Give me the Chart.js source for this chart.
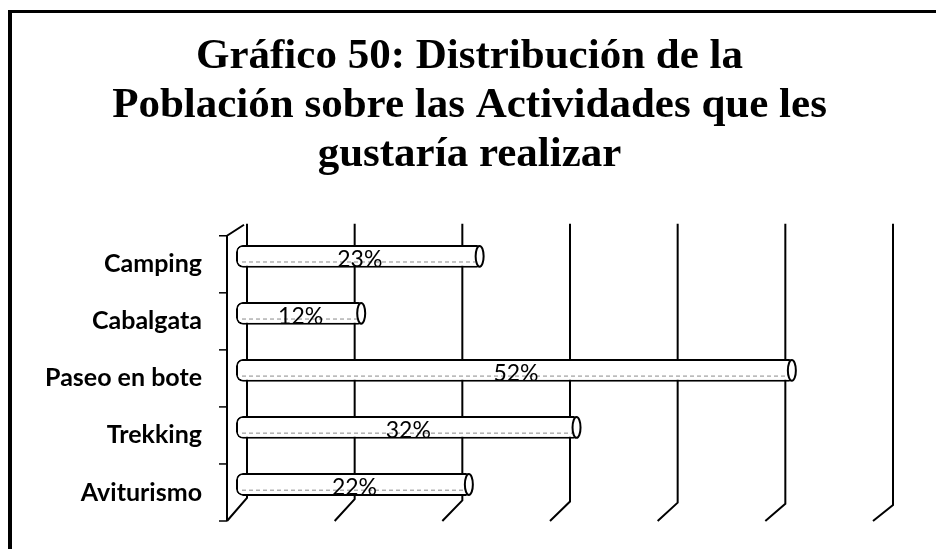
<!DOCTYPE html>
<html>
<head>
<meta charset="utf-8">
<script src="https://cdn.jsdelivr.net/npm/chart.js@4/dist/chart.umd.min.js"></script>
<style>
  html, body { margin: 0; background: #fff; overflow: hidden; width: 936px; height: 549px; }
  #marco { position: absolute; left: 8px; top: 10px; width: 930px; height: 545px;
           border-top: 3px solid #000; border-left: 4px solid #000; }
  #grafico { position: absolute; left: 46px; top: 0; }
</style>
</head>
<body>
<div id="marco"></div>
<canvas id="grafico" width="936" height="549"></canvas>
<script>
// DATOS
const categorias = ['Camping', 'Cabalgata', 'Paseo en bote', 'Trekking', 'Aviturismo'];
const porcentajes = [23, 12, 52, 32, 22];
const marcasEje = [0, 10, 20, 30, 40, 50, 60];
const titulo = ['Gráfico 50: Distribución de la', 'Población sobre las Actividades que les', 'gustaría realizar'];

// profundidad del efecto 3D
const fondo = 20;
const desvX = -11, desvY = -8;

const efecto3d = {
  id: 'efecto3d',
  beforeDatasetsDraw(chart) {
    const { ctx, chartArea: a, scales: { x } } = chart;
    ctx.save();
    ctx.strokeStyle = '#000';
    ctx.lineWidth = 2;
    // lineas de division (pared del fondo + piso)
    marcasEje.forEach(v => {
      const px = x.getPixelForValue(v);
      const pie = a.bottom - 23 + 7 * (px - a.left) / (a.right - a.left);
      ctx.beginPath();
      ctx.moveTo(px, a.top - 12);
      ctx.lineTo(px, pie);
      ctx.lineTo(px - fondo, a.bottom);
      ctx.stroke();
    });
    // eje de categorias al frente
    const ex = a.left - fondo;
    ctx.beginPath();
    ctx.moveTo(ex, a.bottom);
    ctx.lineTo(ex, a.top);
    ctx.lineTo(a.left - 3, a.top - 11);
    ctx.stroke();
    ctx.lineWidth = 1.5;
    const paso = (a.bottom - a.top) / categorias.length;
    for (let i = 0; i <= categorias.length; i++) {
      const py = a.top + i * paso;
      ctx.beginPath();
      ctx.moveTo(ex - 8, py);
      ctx.lineTo(ex, py);
      ctx.stroke();
    }
    ctx.restore();
    // las barras van a media profundidad
    ctx.save();
    ctx.translate(desvX, desvY);
  },
  afterDatasetsDraw(chart) {
    const { ctx } = chart;
    const meta = chart.getDatasetMeta(0);
    meta.data.forEach((barra, i) => {
      const { x: xf, y: yc, base, height: h } = barra.getProps(['x', 'y', 'base', 'height'], true);
      // linea punteada del escaneo
      ctx.save();
      ctx.strokeStyle = '#8a8a8a';
      ctx.lineWidth = 1;
      ctx.setLineDash([4, 3]);
      ctx.beginPath();
      ctx.moveTo(base + 6, yc + h * 0.25);
      ctx.lineTo(xf - 8, yc + h * 0.25);
      ctx.stroke();
      ctx.restore();
      // tapa del cilindro
      ctx.save();
      ctx.fillStyle = '#fff';
      ctx.strokeStyle = '#000';
      ctx.lineWidth = 2;
      ctx.beginPath();
      ctx.ellipse(xf - 4, yc, 4, h / 2 - 1, 0, 0, Math.PI * 2);
      ctx.fill();
      ctx.stroke();
      ctx.restore();
      // etiqueta
      ctx.save();
      ctx.font = '23px Lato';
      ctx.fillStyle = '#000';
      ctx.textAlign = 'center';
      ctx.textBaseline = 'middle';
      ctx.fillText(porcentajes[i] + '%', (base + xf) / 2, yc + 3);
      ctx.restore();
    });
    ctx.restore();
  }
};

function dibujar() {
  new Chart(document.getElementById('grafico'), {
    type: 'bar',
    data: {
      labels: categorias,
      datasets: [{
        data: porcentajes,
        backgroundColor: '#fff',
        borderColor: '#000',
        borderWidth: 2,
        borderSkipped: false,
        borderRadius: 7,
        categoryPercentage: 0.8,
        barPercentage: 0.5,
        clip: false
      }]
    },
    options: {
      indexAxis: 'y',
      responsive: false,
      animation: false,
      events: [],
      layout: { padding: { left: 0, right: 89, top: 0, bottom: 28 } },
      plugins: {
        legend: { display: false },
        tooltip: { enabled: false },
        title: {
          display: true,
          text: titulo,
          color: '#000',
          font: { family: "'Liberation Serif', serif", size: 43, weight: 'bold', lineHeight: 1.13 },
          padding: { top: 33, bottom: 57 }
        }
      },
      scales: {
        x: {
          display: false,
          min: 0, max: 60,
          ticks: { stepSize: 10 }
        },
        y: {
          grid: { display: false, drawTicks: false },
          border: { display: false },
          ticks: { color: '#000', padding: 45, font: { family: 'Lato', size: 25, weight: 'bold' } },
          afterFit: s => { s.width = 201; s.paddingTop = 0; s.paddingBottom = 0; }
        }
      }
    },
    plugins: [efecto3d]
  });
}

Promise.all([
  document.fonts.load('bold 25px Lato'),
  document.fonts.load('23px Lato'),
  document.fonts.load("bold 43px 'Liberation Serif'")
]).then(dibujar, dibujar);
</script>
</body>
</html>
